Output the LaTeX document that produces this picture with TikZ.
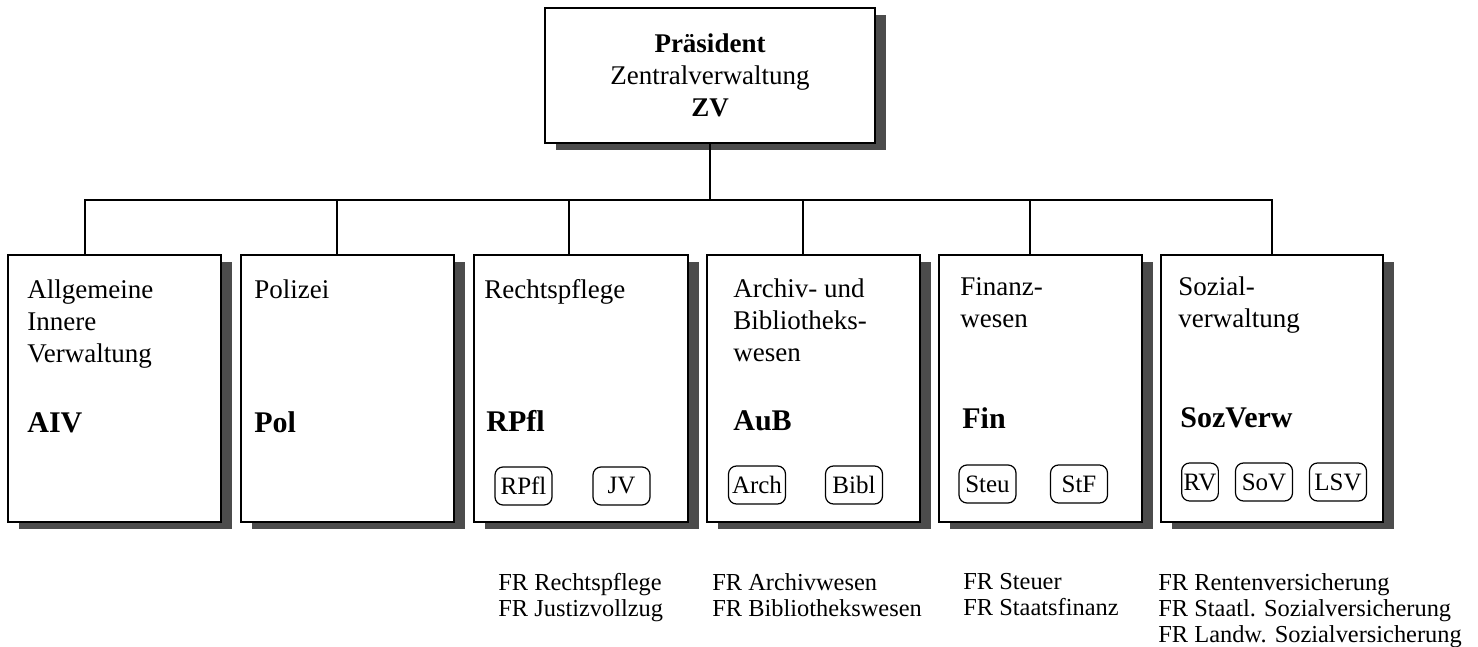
\documentclass[tikz,border=0pt]{standalone}
\usepackage{fontspec}
\setmainfont{Liberation Serif}
\usetikzlibrary{shadows}

\tikzset{
  unit/.style={draw, line width=0.75pt, fill=white, inner sep=0pt, minimum height=133.5pt,
    drop shadow={opacity=1, fill=black!70, shadow xshift=5.5pt, shadow yshift=-3.5pt}},
  link/.style={line width=0.6pt},
  title/.style={anchor=north west, align=left, inner sep=0pt, font=\fontsize{13.5}{16}\selectfont},
  abbr/.style={anchor=base west, inner sep=0pt, font=\fontsize{15}{18}\selectfont\bfseries},
  sub/.style={draw, rounded corners=4pt, line width=0.6pt, minimum width=28.5pt,
    minimum height=19pt, inner xsep=1pt, inner ysep=0pt, font=\fontsize{12.5}{14}\selectfont},
  fr/.style={anchor=north west, align=left, inner sep=0pt, font=\fontsize{12.2}{13}\selectfont}
}

\begin{document}
\begin{tikzpicture}[x=0.5pt,y=-0.5pt]
\useasboundingbox (0,0) rectangle (1478,647);

% Praesident
\node[unit, minimum width=165pt, minimum height=67.5pt, align=center,
  font=\fontsize{13.5}{16}\selectfont] (zv) at (710,75.5)
  {\textbf{Präsident}\\Zentralverwaltung\\\textbf{ZV}};

% Abteilungen
\node[unit, minimum width=106.5pt] (aiv) at (114.5,388.5) {};
\node[unit, minimum width=106.5pt] (pol) at (347.5,388.5) {};
\node[unit, minimum width=107pt] (rpfl) at (581,388.5) {};
\node[unit, minimum width=106.5pt] (aub) at (813.5,388.5) {};
\node[unit, minimum width=101.5pt] (fin) at (1040.5,388.5) {};
\node[unit, minimum width=111pt] (soz) at (1272,388.5) {};

% Verbindungen
\draw[link] (zv.south) -- (zv.south |- 0,200) coordinate (bus);
\draw[link] ([xshift=-14.75pt]aiv.north) |- (bus) -| (soz.north);
\foreach \n/\dx in {pol/-5.25, rpfl/-6, aub/-5.25, fin/-5.25}
  \draw[link] ([xshift=\dx pt]\n.north) -- ([xshift=\dx pt]\n.north |- bus);

% Beschriftungen
\node[title] (aivtxt) at (27,279) {Allgemeine\\Innere\\Verwaltung};
\node[title] (poltxt) at (254,279) {Polizei};
\node[title] (rpfltxt) at (484,279) {Rechtspflege};
\node[title] (aubtxt) at (733,278) {Archiv- und\\Bibliotheks-\\wesen};
\node[title] (fintxt) at (960,277) {Finanz-\\wesen};
\node[title] (soztxt) at (1178,276) {Sozial-\\verwaltung};

\node[abbr] (aivabk) at (27,432) {AIV};
\node[abbr] (polabk) at (254,432) {Pol};
\node[abbr] (rpflabk) at (486,431) {RPfl};
\node[abbr] (aubabk) at (733,430) {AuB};
\node[abbr] (finabk) at (962,428) {Fin};
\node[abbr] (sozabk) at (1180,427) {SozVerw};

% Fachreferate
\node[sub] (rp) at (523.5,486) {RPfl};
\node[sub] (jv) at (621.5,486) {JV};
\node[sub] (arch) at (757,485) {Arch};
\node[sub] (bibl) at (854,485) {Bibl};
\node[sub] (steu) at (987.5,484) {Steu};
\node[sub] (stf) at (1079,484) {StF};
\node[sub, minimum width=0pt] (rv) at (1200,482) {RV};
\node[sub] (sov) at (1264,482) {SoV};
\node[sub] (lsv) at (1338,482) {LSV};

\node[fr] (frrpfl) at (498,573) {FR Rechtspflege\\FR Justizvollzug};
\node[fr] (fraub) at (712,573) {FR Archivwesen\\FR Bibliothekswesen};
\node[fr] (frfin) at (963,573) {FR Steuer\\FR Staatsfinanz};
\node[fr] (frsoz) at (1158,573) {FR Rentenversicherung\\FR Staatl. Sozialversicherung\\FR Landw. Sozialversicherung};
\end{tikzpicture}
\end{document}
